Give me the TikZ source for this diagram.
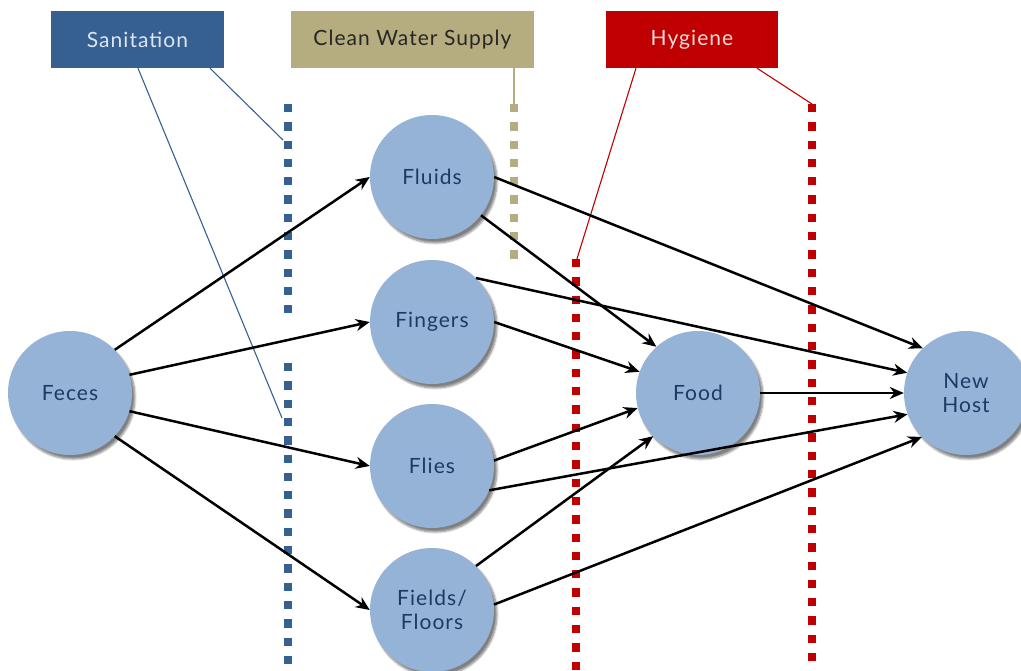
\documentclass[tikz,border=0pt]{standalone}
\usepackage{fontspec}
\setmainfont{Lato}[LetterSpace=5]
\usetikzlibrary{arrows.meta,shadows.blur}
\definecolor{sanblue}{RGB}{55,96,146}
\definecolor{watertan}{RGB}{181,173,127}
\definecolor{hygred}{RGB}{192,0,0}
\definecolor{nodeblue}{RGB}{149,179,215}
\definecolor{labelblue}{RGB}{31,56,100}
\definecolor{sanlabel}{RGB}{220,230,242}
\definecolor{hyglabel}{RGB}{242,220,219}
\definecolor{waterlabel}{RGB}{38,38,38}
\begin{document}
\begin{tikzpicture}[x=1pt,y=-1pt,
  route/.style={circle, fill=nodeblue, minimum size=124pt, inner sep=0pt,
    text=labelblue, align=center, font=\fontsize{21}{24}\selectfont,
    blur shadow={shadow xshift=3pt, shadow yshift=-4pt, shadow blur steps=6, shadow opacity=50}},
  barrier/.style={minimum height=57pt, inner sep=0pt, font=\fontsize{21}{24}\selectfont},
  flow/.style={-{Stealth[length=14pt,width=12pt]}, line width=2.5pt, black},
  fence/.style={line width=8.3pt, dash pattern=on 8.3pt off 10pt},
  callout/.style={line width=1.1pt}
]
\useasboundingbox (0,0) rectangle (1021,671);

% barrier labels
\node[barrier, fill=sanblue, text=sanlabel, minimum width=173pt] (san) at (137.5,39.5) {Sanitation};
\node[barrier, fill=watertan, text=waterlabel, minimum width=243pt] (water) at (412.5,39.5) {Clean Water Supply};
\node[barrier, fill=hygred, text=hyglabel, minimum width=172pt] (hyg) at (692,39.5) {Hygiene};

% fence lines
\coordinate (sanTopA) at (288,104);
\coordinate (sanTopB) at (288,313);
\coordinate (sanLowA) at (288,363);
\coordinate (sanLowB) at (288,680);
\coordinate (watA) at (514,104);
\coordinate (watB) at (514,259);
\coordinate (hygLA) at (576,259);
\coordinate (hygLB) at (576,680);
\coordinate (hygRA) at (812,104);
\coordinate (hygRB) at (812,680);
\draw[fence, sanblue] (sanTopA) -- (sanTopB);
\draw[fence, sanblue] (sanLowA) -- (sanLowB);
\draw[fence, watertan] (watA) -- (watB);
\draw[fence, hygred] (hygLA) -- (hygLB);
\draw[fence, hygred] (hygRA) -- (hygRB);

% callouts
\coordinate (sanHitTop) at (283,140);
\coordinate (sanHitLow) at (282,418);
\coordinate (hygHitL) at (576,262);
\draw[callout, sanblue] ([xshift=0.5pt]san.south) -- (sanHitLow);
\draw[callout, sanblue] ([xshift=72.5pt]san.south) -- (sanHitTop);
\draw[callout, watertan] ([xshift=101.5pt]water.south) -- (watA);
\draw[callout, hygred] ([xshift=-56pt]hyg.south) -- (hygHitL);
\draw[callout, hygred] ([xshift=65pt]hyg.south) -- (hygRA);

% transmission routes
\node[route] (feces) at (70,393) {Feces};
\node[route] (fluids) at (432,177) {Fluids};
\node[route] (fingers) at (432,322) {Fingers};
\node[route] (flies) at (432,466) {Flies};
\node[route] (fields) at (432,610) {Fields/\\Floors};
\node[route] (food) at (698,393) {Food};
\node[route] (host) at (966,393) {New\\Host};

\draw[flow] (feces.44) -- (fluids.west);
\draw[flow] (feces.17) -- (fingers.west);
\draw[flow] (feces.-17) -- (flies.west);
\draw[flow] (feces.-44) -- (fields.west);

\draw[flow] (fluids.-38) -- (food.132);
\draw[flow] (fluids.0) -- (host.134);
\draw[flow] (fingers.45) -- (host.161);
\draw[flow] (fingers.0) -- (food.160);
\draw[flow] (flies.5) -- (food.-166);
\draw[flow] (flies.-23) -- (host.-160);
\draw[flow] (fields.45) -- (food.-136);
\draw[flow] (fields.5) -- (host.-135);
\draw[flow] (food.east) -- (host.west);
\end{tikzpicture}
\end{document}
